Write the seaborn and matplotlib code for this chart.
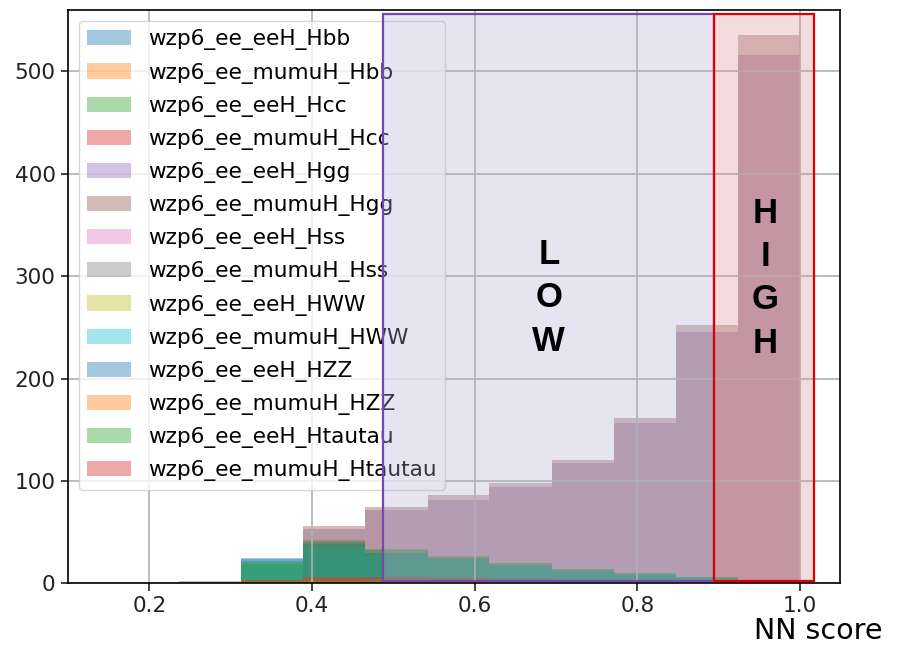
import matplotlib
matplotlib.use("Agg")
import matplotlib.pyplot as plt
import matplotlib.patches as mpatches
import numpy as np
import seaborn as sns

# bin edges of the NN score histograms
bin_edges = [0.160, 0.236, 0.313, 0.389, 0.465, 0.542, 0.618, 0.695, 0.771, 0.847, 0.924, 1.000]

samples = ['wzp6_ee_eeH_Hbb', 'wzp6_ee_mumuH_Hbb', 'wzp6_ee_eeH_Hcc', 'wzp6_ee_mumuH_Hcc',
           'wzp6_ee_eeH_Hgg', 'wzp6_ee_mumuH_Hgg', 'wzp6_ee_eeH_Hss', 'wzp6_ee_mumuH_Hss',
           'wzp6_ee_eeH_HWW', 'wzp6_ee_mumuH_HWW', 'wzp6_ee_eeH_HZZ', 'wzp6_ee_mumuH_HZZ',
           'wzp6_ee_eeH_Htautau', 'wzp6_ee_mumuH_Htautau']

# counts per bin for each sample
eeH_Hbb = [0, 1, 25, 40, 33, 25, 18, 12, 8, 5, 2]
mumuH_Hbb = [0, 1, 3, 5, 5, 4, 3, 2, 2, 1, 1]
eeH_Hcc = [0, 1, 22, 42, 30, 26, 20, 14, 10, 6, 3]
mumuH_Hcc = [0, 0, 2, 4, 4, 3, 3, 2, 2, 1, 1]
eeH_Hgg = [0, 1, 3, 53, 72, 81, 94, 118, 157, 245, 516]
mumuH_Hgg = [0, 2, 3, 56, 75, 86, 98, 120, 161, 252, 536]
eeH_Hss = [0, 0, 1, 2, 2, 2, 1, 1, 1, 1, 0]
mumuH_Hss = [0, 0, 1, 2, 2, 2, 1, 1, 1, 0, 0]
eeH_HWW = [0, 1, 3, 6, 5, 4, 3, 3, 2, 1, 1]
mumuH_HWW = [0, 1, 18, 35, 28, 22, 17, 12, 9, 6, 2]
eeH_HZZ = [0, 1, 24, 38, 30, 24, 17, 12, 8, 5, 2]
mumuH_HZZ = [0, 1, 3, 5, 4, 4, 3, 2, 2, 1, 1]
eeH_Htautau = [0, 1, 20, 40, 34, 27, 20, 14, 10, 6, 3]
mumuH_Htautau = [0, 1, 3, 6, 6, 5, 4, 3, 2, 2, 1]

counts = [eeH_Hbb, mumuH_Hbb, eeH_Hcc, mumuH_Hcc, eeH_Hgg, mumuH_Hgg, eeH_Hss,
          mumuH_Hss, eeH_HWW, mumuH_HWW, eeH_HZZ, mumuH_HZZ, eeH_Htautau, mumuH_Htautau]

plt.rcParams['font.family'] = 'DejaVu Sans'
plt.rcParams['font.size'] = 15.6
plt.rcParams['axes.linewidth'] = 1.2
plt.rcParams['xtick.major.size'] = 5.4
plt.rcParams['ytick.major.size'] = 5.4
plt.rcParams['xtick.major.width'] = 1.2
plt.rcParams['ytick.major.width'] = 1.2
plt.rcParams['xtick.color'] = '#222222'
plt.rcParams['ytick.color'] = '#222222'

fig = plt.figure(figsize=(8.98, 6.48), dpi=100)
ax = fig.add_axes([0.0757, 0.0998, 0.8597, 0.8848])

palette = sns.color_palette('tab10', 10)
edges = np.array(bin_edges)
centers = (edges[:-1] + edges[1:]) / 2
for i, (name, c) in enumerate(zip(samples, counts)):
    sns.histplot(x=centers, weights=c, bins=bin_edges, color=palette[i % 10],
                 alpha=0.4, linewidth=0, label=name, ax=ax)

ax.set_xlim(0.1, 1.049)
ax.set_ylim(0, 560)
ax.set_xticks([0.2, 0.4, 0.6, 0.8, 1.0])
ax.set_yticks([0, 100, 200, 300, 400, 500])
ax.set_xlabel('')
ax.set_ylabel('')
ax.grid(True, color='#b0b0b0', linewidth=1.2)
ax.legend(loc='upper left', labelspacing=0.56)

# LOW / HIGH regions
low = mpatches.Rectangle((0.487, 2), 0.894 - 0.487, 554, facecolor=(0.69, 0.67, 0.82, 0.32),
                         edgecolor='#7548b0', linewidth=1.6, zorder=6)
high = mpatches.Rectangle((0.894, 2), 1.017 - 0.894, 554, facecolor=(0.88, 0.58, 0.61, 0.33),
                          edgecolor='#e00000', linewidth=1.6, zorder=6)
ax.add_patch(low)
ax.add_patch(high)
ax.text(0.691, 279, 'L\nO\nW', ha='center', va='center', fontsize=25, fontweight='bold',
        family='Liberation Sans', linespacing=1.4, zorder=7)
ax.text(0.957, 298, 'H\nI\nG\nH', ha='center', va='center', fontsize=25, fontweight='bold',
        family='Liberation Sans', linespacing=1.4, zorder=7)

fig.text(0.84, 0.014, 'NN score', ha='left', va='baseline', fontsize=20.5, family='DejaVu Sans')

fig.savefig('out.png', dpi=100)
